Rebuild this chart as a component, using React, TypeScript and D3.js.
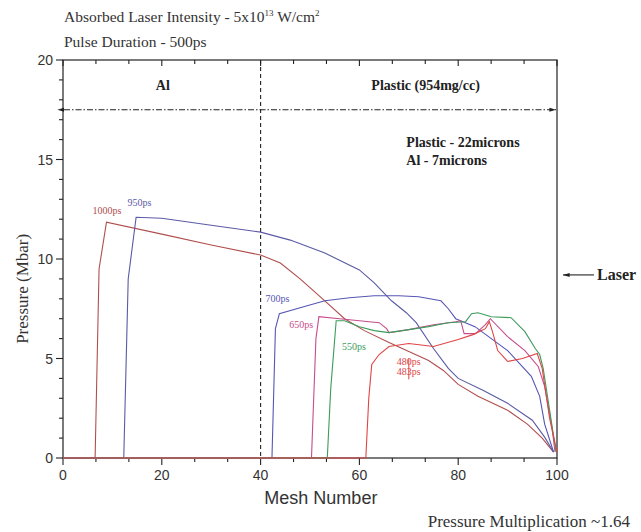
import React, { useRef, useEffect } from "react";
import * as d3 from "d3";

// Pressure profiles: [mesh number, pressure Mbar]
const p1000 = [
  [0, 0], [6.5, 0], [7.3, 9.5], [8.8, 11.85], [20, 11.25], [30, 10.7], [40, 10.2],
  [44, 9.8], [48, 9.0], [53, 7.9], [57, 7.0], [61, 6.4], [66, 5.8], [70, 5.35],
  [74, 4.9], [77, 4.4], [80, 3.7], [84, 3.1], [90, 2.4], [94, 1.7], [97, 1.0], [99.3, 0.3],
];
const p950 = [
  [0, 0], [12.3, 0], [13.2, 9], [14.8, 12.1], [20, 12.05], [30, 11.7], [40, 11.35],
  [46, 10.95], [53, 10.3], [60, 9.45], [63, 8.8], [66.5, 7.9], [69.5, 7.3], [71.5, 6.8],
  [75, 5.5], [78, 4.5], [80, 4.0], [85, 3.4], [90, 2.75], [95, 1.9], [97.5, 1.05], [99.3, 0.3],
];
const p700 = [
  [0, 0], [42.3, 0], [43, 6.5], [43.8, 7.25], [48, 7.55], [53, 7.9], [58, 8.05],
  [63, 8.15], [68, 8.15], [72, 8.1], [76.5, 7.9], [78, 7.5], [79.5, 7.0], [83.4, 6.6],
  [90, 5.4], [94.8, 4.1], [96.5, 3.1], [97.5, 1.7], [99.3, 0.3],
];
const p650 = [
  [0, 0], [50.3, 0], [51.2, 6.0], [51.8, 7.1], [56, 7.0], [60, 6.9], [64, 6.8],
  [65.5, 6.5], [66, 6.3], [70, 6.45], [75, 6.7], [79.5, 6.85], [80.5, 6.9], [81.2, 6.25],
  [83.5, 6.25], [85.5, 6.7], [86.5, 7.0], [90, 6.1], [93.5, 5.4], [96.2, 4.6],
  [97.5, 3.6], [99, 1.5], [99.6, 0.3],
];
const p550 = [
  [0, 0], [53.5, 0], [54.2, 3.5], [55.3, 6.9], [57, 6.9], [60, 6.6], [63, 6.4],
  [66, 6.3], [70, 6.45], [74, 6.6], [78, 6.8], [81.5, 6.85], [82.7, 7.25], [84, 7.3],
  [86.7, 7.1], [90.7, 7.05], [93.5, 6.35], [95.6, 5.5], [96.5, 5.2], [97.2, 4.5],
  [98.2, 2.9], [99.8, 0.3],
];
const p480 = [
  [0, 0], [61.3, 0], [61.9, 3.0], [62.5, 4.7], [64, 5.2], [66, 5.6], [70, 5.75],
  [75, 5.6], [80, 5.95], [83, 6.2], [85.5, 6.5], [86.3, 6.85], [87, 6.3], [88, 5.4],
  [90, 4.85], [93, 5.0], [96, 5.25], [97, 4.5], [98.5, 2.0], [100, 0.3],
];

const curves = [
  { name: "1000ps", data: p1000, color: "#b04e4e", label: [8.9, 12.25] },
  { name: "950ps", data: p950, color: "#5a5aa6", label: [15.5, 12.66] },
  { name: "700ps", data: p700, color: "#5656b4", label: [43.4, 7.84] },
  { name: "650ps", data: p650, color: "#c64c8c", label: [48.2, 6.53] },
  { name: "550ps", data: p550, color: "#3c9c5c", label: [58.9, 5.43] },
  { name: "480ps", data: p480, color: "#e04444", label: [70, 4.67] },
];

const xMajor = [0, 20, 40, 60, 80, 100];
const yMajor = [0, 5, 10, 15, 20];
const interfaceMesh = 40;
const regionLine = 17.5;

const serif = "'Liberation Serif', 'DejaVu Serif', serif";
const sans = "'Liberation Sans', Arial, sans-serif";

const App = () => {
  const svgRef = useRef(null);

  useEffect(() => {
    const svg = d3.select(svgRef.current);
    svg.selectAll("*").remove();

    const x = d3.scaleLinear().domain([0, 100]).range([63, 557]);
    const y = d3.scaleLinear().domain([0, 20]).range([458, 60]);

    const defs = svg.append("defs");
    ["start", "end"].forEach((k) => {
      defs
        .append("marker")
        .attr("id", `arr-${k}`)
        .attr("viewBox", "0 0 10 10")
        .attr("refX", k === "end" ? 10 : 0)
        .attr("refY", 5)
        .attr("markerWidth", 6)
        .attr("markerHeight", 6)
        .attr("orient", "auto-start-reverse")
        .append("path")
        .attr("d", "M0,2 L10,5 L0,8 Z")
        .attr("fill", "#222");
    });

    // Frame
    svg
      .append("rect")
      .attr("x", x(0))
      .attr("y", y(20))
      .attr("width", x(100) - x(0))
      .attr("height", y(0) - y(20))
      .attr("fill", "none")
      .attr("stroke", "#222")
      .attr("stroke-width", 1.2);

    // Ticks
    const xMinor = [];
    for (let i = 0; i < xMajor.length - 1; i++) {
      const step = (xMajor[i + 1] - xMajor[i]) / 3;
      xMinor.push(xMajor[i] + step, xMajor[i] + 2 * step);
    }
    const yMinor = [];
    for (let i = 0; i < yMajor.length - 1; i++) {
      for (let j = 1; j < 5; j++) yMinor.push(yMajor[i] + j);
    }
    const tick = svg.append("g").attr("stroke", "#222").attr("stroke-width", 1.1);
    xMajor.forEach((v) => {
      tick.append("line").attr("x1", x(v)).attr("x2", x(v)).attr("y1", y(0)).attr("y2", y(0) + 7);
      tick.append("line").attr("x1", x(v)).attr("x2", x(v)).attr("y1", y(20)).attr("y2", y(20) + 6);
    });
    xMinor.forEach((v) => {
      tick.append("line").attr("x1", x(v)).attr("x2", x(v)).attr("y1", y(0)).attr("y2", y(0) + 4);
      tick.append("line").attr("x1", x(v)).attr("x2", x(v)).attr("y1", y(20)).attr("y2", y(20) + 4);
    });
    yMajor.forEach((v) => {
      tick.append("line").attr("x1", x(0) - 7).attr("x2", x(0)).attr("y1", y(v)).attr("y2", y(v));
    });
    yMinor.forEach((v) => {
      tick.append("line").attr("x1", x(0) - 4).attr("x2", x(0)).attr("y1", y(v)).attr("y2", y(v));
    });

    // Tick labels
    svg
      .append("g")
      .selectAll("text")
      .data(xMajor)
      .join("text")
      .attr("x", (d) => x(d))
      .attr("y", y(0) + 22)
      .attr("text-anchor", "middle")
      .attr("font-family", sans)
      .attr("font-size", 14)
      .attr("fill", "#333")
      .text((d) => d);
    svg
      .append("g")
      .selectAll("text")
      .data(yMajor)
      .join("text")
      .attr("x", x(0) - 10)
      .attr("y", (d) => y(d) + 5)
      .attr("text-anchor", "end")
      .attr("font-family", sans)
      .attr("font-size", 14)
      .attr("fill", "#333")
      .text((d) => d);

    // Region separators
    svg
      .append("line")
      .attr("x1", x(interfaceMesh))
      .attr("x2", x(interfaceMesh))
      .attr("y1", y(20))
      .attr("y2", y(0))
      .attr("stroke", "#222")
      .attr("stroke-width", 1.1)
      .attr("stroke-dasharray", "4,3");
    svg
      .append("line")
      .attr("x1", x(0) + 1)
      .attr("x2", x(100) - 1)
      .attr("y1", y(regionLine))
      .attr("y2", y(regionLine))
      .attr("stroke", "#222")
      .attr("stroke-width", 1.1)
      .attr("stroke-dasharray", "6,2,1.5,2")
      .attr("marker-start", "url(#arr-start)")
      .attr("marker-end", "url(#arr-end)");

    // Curves
    const line = d3
      .line()
      .x((d) => x(d[0]))
      .y((d) => y(d[1]));
    curves.forEach((c) => {
      svg
        .append("path")
        .attr("d", line(c.data))
        .attr("fill", "none")
        .attr("stroke", c.color)
        .attr("stroke-width", 1.1);
      svg
        .append("text")
        .attr("x", x(c.label[0]))
        .attr("y", y(c.label[1]))
        .attr("text-anchor", "middle")
        .attr("font-family", serif)
        .attr("font-size", 10)
        .attr("fill", c.color)
        .text(c.name);
    });
    // second label on the red pair
    svg
      .append("text")
      .attr("x", x(70))
      .attr("y", y(4.17))
      .attr("text-anchor", "middle")
      .attr("font-family", serif)
      .attr("font-size", 10)
      .attr("fill", "#e04444")
      .text("483ps");
    svg
      .append("line")
      .attr("x1", x(70))
      .attr("x2", x(70))
      .attr("y1", y(5.0))
      .attr("y2", y(3.95))
      .attr("stroke", "#e04444")
      .attr("stroke-width", 1);

    // Region annotations
    const bold = (t, px, py, anchor = "start") =>
      svg
        .append("text")
        .attr("x", px)
        .attr("y", py)
        .attr("text-anchor", anchor)
        .attr("font-family", serif)
        .attr("font-weight", "bold")
        .attr("font-size", 14)
        .attr("fill", "#222")
        .text(t);
    bold("Al", x(20.2), 90, "middle");
    bold("Plastic (954mg/cc)", x(73.4), 90, "middle");
    bold("Plastic - 22microns", x(69.5), 147);
    bold("Al - 7microns", x(69.5), 165);

    // Laser arrow
    svg
      .append("line")
      .attr("x1", 594)
      .attr("x2", 563)
      .attr("y1", y(9.2))
      .attr("y2", y(9.2))
      .attr("stroke", "#222")
      .attr("stroke-width", 1.1)
      .attr("marker-end", "url(#arr-end)");
    svg
      .append("text")
      .attr("x", 597)
      .attr("y", y(9.2) + 5)
      .attr("font-family", serif)
      .attr("font-weight", "bold")
      .attr("font-size", 16)
      .attr("fill", "#222")
      .text("Laser");

    // Titles
    const t1 = svg
      .append("text")
      .attr("x", 64)
      .attr("y", 22)
      .attr("font-family", serif)
      .attr("font-size", 15.5)
      .attr("fill", "#333");
    t1.append("tspan").text("Absorbed Laser Intensity - 5x10");
    t1.append("tspan").attr("font-size", 9).attr("dy", -6).text("13");
    t1.append("tspan").attr("dy", 6).text(" W/cm");
    t1.append("tspan").attr("font-size", 9).attr("dy", -6).text("2");
    svg
      .append("text")
      .attr("x", 64)
      .attr("y", 47)
      .attr("font-family", serif)
      .attr("font-size", 15.5)
      .attr("fill", "#333")
      .text("Pulse Duration - 500ps");

    // Axis titles
    svg
      .append("text")
      .attr("x", x(52.2))
      .attr("y", 504)
      .attr("text-anchor", "middle")
      .attr("font-family", sans)
      .attr("font-size", 18)
      .attr("fill", "#333")
      .text("Mesh Number");
    svg
      .append("text")
      .attr("transform", `translate(28,${y(8.5)}) rotate(-90)`)
      .attr("text-anchor", "middle")
      .attr("font-family", serif)
      .attr("font-size", 17)
      .attr("fill", "#333")
      .text("Pressure (Mbar)");
    svg
      .append("text")
      .attr("x", 630)
      .attr("y", 527)
      .attr("text-anchor", "end")
      .attr("font-family", serif)
      .attr("font-size", 17)
      .attr("fill", "#333")
      .text("Pressure Multiplication ~1.64");
  }, []);

  return (
    <svg
      ref={svgRef}
      width={641}
      height={532}
      style={{ position: "absolute", left: 0, top: 0, background: "#fff" }}
    />
  );
};

export default App;
